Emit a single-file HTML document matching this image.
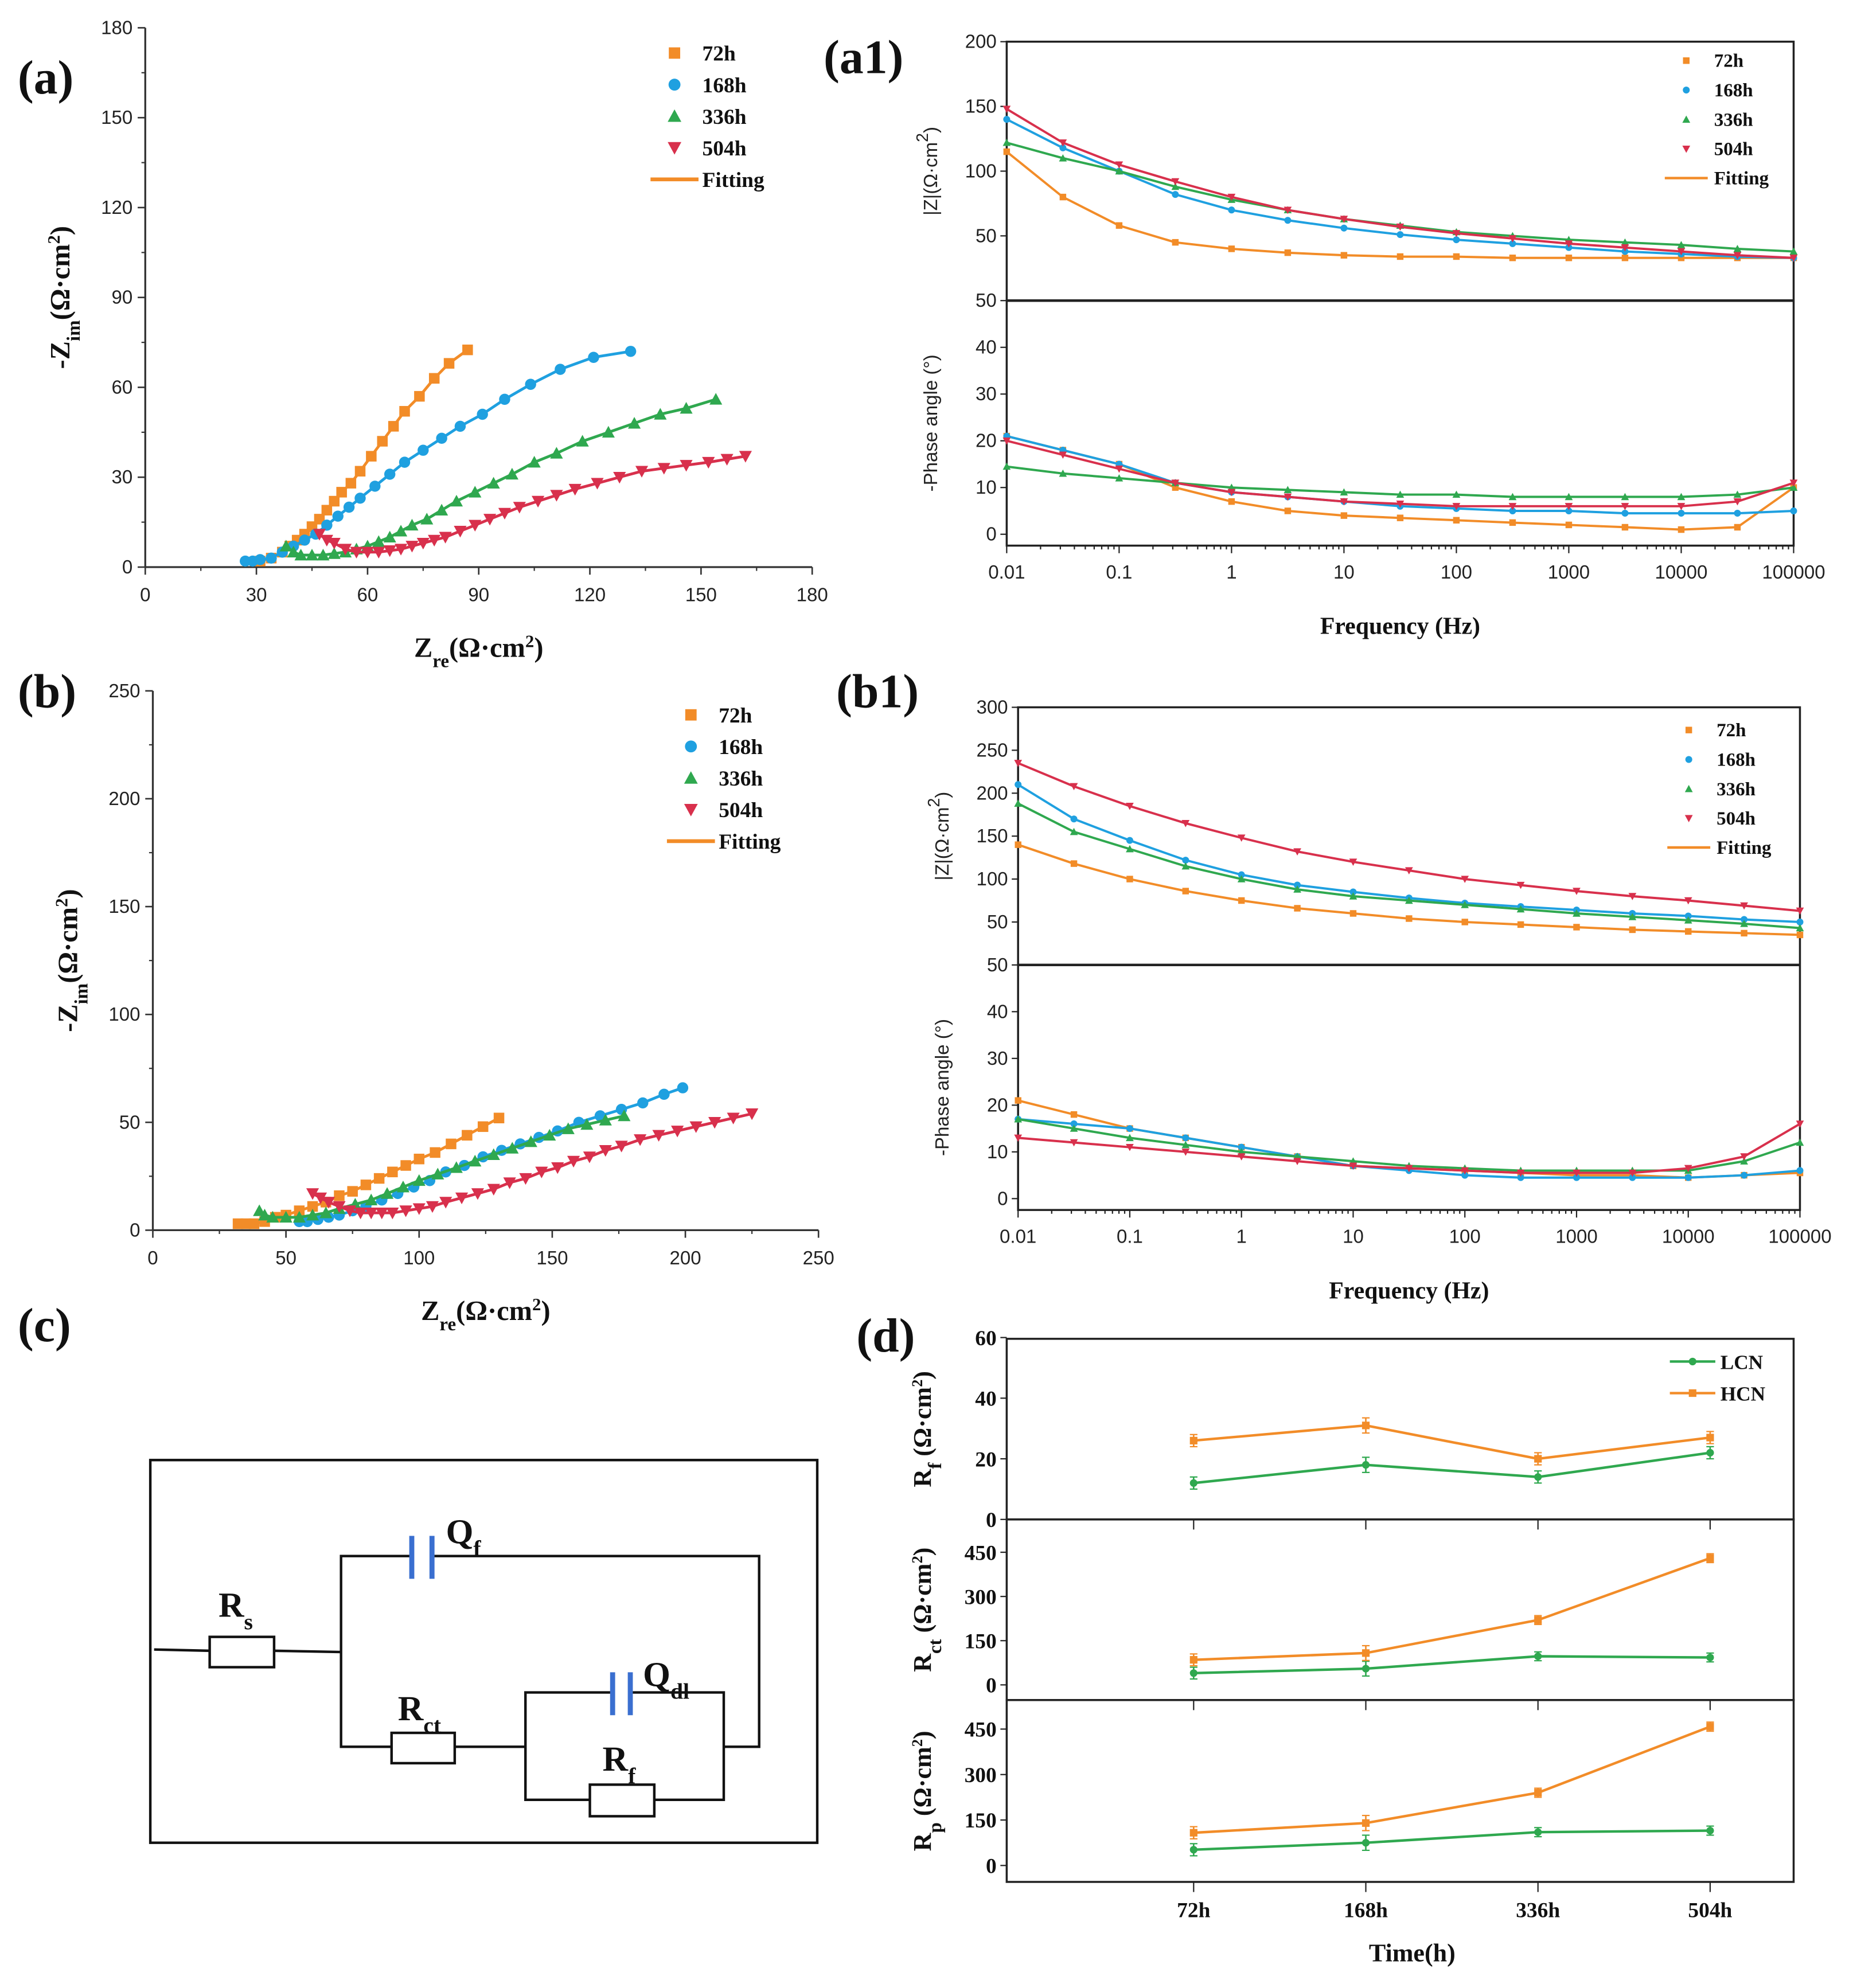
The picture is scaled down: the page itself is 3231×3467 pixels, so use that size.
<!DOCTYPE html>
<html><head><meta charset="utf-8"><style>
html,body{margin:0;padding:0;background:#fff}
svg{display:block}
.t{font-family:"Liberation Sans",sans-serif;font-size:15px;fill:#222}
.s{font-family:"Liberation Serif",serif;font-weight:bold;fill:#111}
</style></head><body>
<svg id="fig" width="3231" height="3467" viewBox="0 0 1467 1574" preserveAspectRatio="none" xmlns="http://www.w3.org/2000/svg">
<g id="root"></g>
</svg>
<script>
// ---------- DATA ----------
const seriesNames=["72h","168h","336h","504h"];
const seriesColors=["#f28c28","#1fa0e0","#2fa84f","#d8304c"];
// Nyquist (a)
const aZre72=[31,34,37,39,41,43,45,47,49,51,53,55.5,58,61,64,67,70,74,78,82,87];
const aZim72=[2,3,5,7,9,11,13.5,16,19,22,25,28,32,37,42,47,52,57,63,68,72.5];
const aZre168=[27,29,31,34,37,40,43,46,49,52,55,58,62,66,70,75,80,85,91,97,104,112,121,131];
const aZim168=[2,2,2.5,3,5,7,9,11,14,17,20,23,27,31,35,39,43,47,51,56,61,66,70,72];
const aZre336=[38,40,42,45,48,51,54,57,60,63,66,69,72,76,80,84,89,94,99,105,111,118,125,132,139,146,154];
const aZim336=[7,5,4,4,4,4.5,5,6,7,8.5,10,12,14,16,19,22,25,28,31,35,38,42,45,48,51,53,56];
const aZre504=[47,49,51,54,57,60,63,66,69,72,75,78,81,85,89,93,97,101,106,111,116,122,128,134,140,146,152,157,162];
const aZim504=[11,9,8,6,5,5,5,5.5,6,7,8,9,10,12,14,16,18,20,22,24,26,28,30,32,33,34,35,36,37];
// Nyquist (b)
const bZre72=[32,35,38,42,46,50,55,60,65,70,75,80,85,90,95,100,106,112,118,124,130];
const bZim72=[3,3,3,4,6,7,9,11,13,16,18,21,24,27,30,33,36,40,44,48,52];
const bZre168=[55,58,62,66,70,75,80,86,92,98,104,110,117,124,131,138,145,152,160,168,176,184,192,199];
const bZim168=[4,4,5,6,7,9,11,14,17,20,23,27,30,34,37,40,43,46,50,53,56,59,63,66];
const bZre336=[40,42,45,50,55,60,65,70,76,82,88,94,100,107,114,121,128,135,142,149,156,163,170,177];
const bZim336=[9,7,6,6,6,7,8,10,12,14,17,20,23,26,29,32,35,38,41,44,47,49,51,53];
const bZre504=[60,63,66,70,74,78,82,86,90,95,100,105,110,116,122,128,134,140,146,152,158,164,170,176,183,190,197,204,211,218,225];
const bZim504=[17,15,13,11,9,8,8,8,8,9,10,11,13,15,17,19,22,24,27,29,32,34,37,39,42,44,46,48,50,52,54];
// Bode: log10(freq) values
const logFreq=[-2,-1.5,-1,-0.5,0,0.5,1,1.5,2,2.5,3,3.5,4,4.5,5];
const a1Z72=[115,80,58,45,40,37,35,34,34,33,33,33,33,33,33];
const a1Z168=[140,118,100,82,70,62,56,51,47,44,41,38,36,34,33];
const a1Z336=[122,110,100,88,78,70,63,58,53,50,47,45,43,40,38];
const a1Z504=[148,122,105,92,80,70,63,57,52,48,44,41,38,35,33];
const a1P72=[21,18,15,10,7,5,4,3.5,3,2.5,2,1.5,1,1.5,10];
const a1P168=[21,18,15,11,9,8,7,6,5.5,5,5,4.5,4.5,4.5,5];
const a1P336=[14.5,13,12,11,10,9.5,9,8.5,8.5,8,8,8,8,8.5,10];
const a1P504=[20,17,14,11,9,8,7,6.5,6,6,6,6,6,7,11];
const b1Z72=[140,118,100,86,75,66,60,54,50,47,44,41,39,37,35];
const b1Z168=[210,170,145,122,105,93,85,78,72,68,64,60,57,53,50];
const b1Z336=[188,155,135,115,100,88,80,75,70,65,60,56,52,48,43];
const b1Z504=[235,208,185,165,148,132,120,110,100,93,86,80,75,69,63];
const b1P72=[21,18,15,13,11,9,7,6.5,6,5.5,5,5,4.5,5,5.5];
const b1P168=[17,16,15,13,11,9,7,6,5,4.5,4.5,4.5,4.5,5,6];
const b1P336=[17,15,13,11.5,10,9,8,7,6.5,6,6,6,6,8,12];
const b1P504=[13,12,11,10,9,8,7,6.5,6,5.5,5.5,5.5,6.5,9,16];
const freqTickLabels=["0.01","0.1","1","10","100","1000","10000","100000"];
// Panel (d)
const timeCats=["72h","168h","336h","504h"];
const rfLCN=[12,18,14,22], rfHCN=[26,31,20,27];
const rctLCN=[40,55,97,93], rctHCN=[85,108,220,430];
const rpLCN=[52,75,110,115], rpHCN=[108,140,240,458];
const rfErr=[2,2.5,2,2], rctErr=[20,25,15,15], rpErr=[20,25,15,15];

// ---------- HELPERS ----------
const NS="http://www.w3.org/2000/svg";
const root=document.getElementById('root');
function mk(tag,attrs,parent){const e=document.createElementNS(NS,tag);for(const k in attrs)e.setAttribute(k,attrs[k]);(parent||root).appendChild(e);return e;}
function txt(x,y,s,cls,extra,parent){const e=mk('text',Object.assign({x:x,y:y,class:cls},extra||{}),parent);e.innerHTML=s;return e;}
function lin(d0,d1,r0,r1){return v=>r0+(v-d0)/(d1-d0)*(r1-r0);}
function marker(g,type,x,y,r,color){
  let e;
  if(type===0)e=mk('rect',{x:x-r,y:y-r,width:2*r,height:2*r,fill:color},g);
  else if(type===1)e=mk('circle',{cx:x,cy:y,r:r*1.05,fill:color},g);
  else if(type===2)e=mk('polygon',{points:`${x},${y-r*1.2} ${x-r*1.2},${y+r} ${x+r*1.2},${y+r}`,fill:color},g);
  else e=mk('polygon',{points:`${x},${y+r*1.2} ${x-r*1.2},${y-r} ${x+r*1.2},${y-r}`,fill:color},g);
  return e;
}

// ---------- NYQUIST ----------
function nyquist(opt,xs,ys,name){
  const g=mk('g',{});
  
  
  const X=lin(0,opt.max,opt.x0,opt.x1),Y=lin(0,opt.max,opt.y0,opt.y1);
  mk('line',{x1:opt.x0,y1:opt.y0,x2:opt.x1,y2:opt.y0,stroke:'#333','stroke-width':1.5},g);
  mk('line',{x1:opt.x0,y1:opt.y0,x2:opt.x0,y2:opt.y1,stroke:'#333','stroke-width':1.5},g);
  for(let v=0;v<=opt.max;v+=opt.step){
    mk('line',{x1:X(v),y1:opt.y0,x2:X(v),y2:opt.y0+6,stroke:'#333','stroke-width':1.2},g);
    mk('line',{x1:opt.x0,y1:Y(v),x2:opt.x0-6,y2:Y(v),stroke:'#333','stroke-width':1.2},g);
    txt(X(v),opt.y0+27,v,'t',{'text-anchor':'middle'},g);
    txt(opt.x0-10,Y(v)+5,v,'t',{'text-anchor':'end'},g);
    if(v+opt.step<=opt.max){
      mk('line',{x1:X(v+opt.step/2),y1:opt.y0,x2:X(v+opt.step/2),y2:opt.y0+3,stroke:'#333'},g);
      mk('line',{x1:opt.x0,y1:Y(v+opt.step/2),x2:opt.x0-3,y2:Y(v+opt.step/2),stroke:'#333'},g);
    }
  }
  for(let s=0;s<4;s++){
    const pts=xs[s].map((v,i)=>X(v).toFixed(1)+','+Y(ys[s][i]).toFixed(1)).join(' ');
    const pl=mk('polyline',{points:pts,fill:'none',stroke:seriesColors[s],'stroke-width':2.2},g);
    
    
    xs[s].forEach((v,i)=>{marker(g,s,X(v),Y(ys[s][i]),4.2,seriesColors[s]);});
  }
  // legend
  const lg=mk('g',{},g);
  
  
  for(let s=0;s<4;s++){
    marker(lg,s,opt.lx,opt.ly+s*25,4.5,seriesColors[s]);
    txt(opt.lx+22,opt.ly+s*25+6,seriesNames[s],'s',{'font-size':17},lg);
  }
  mk('line',{x1:opt.lx-19,y1:opt.ly+100,x2:opt.lx+19,y2:opt.ly+100,stroke:'#f28c28','stroke-width':3},lg);
  txt(opt.lx+22,opt.ly+106,'Fitting','s',{'font-size':17},lg);
  // titles
  const yt=txt(0,0,'-Z<tspan baseline-shift="sub" font-size="15">im</tspan>(Ω·cm<tspan baseline-shift="super" font-size="14">2</tspan>)','s',{'font-size':22,'text-anchor':'middle',transform:`translate(${opt.x0-60},${(opt.y0+opt.y1)/2}) rotate(-90)`},g);
  
  
  const xt=txt((opt.x0+opt.x1)/2,opt.y0+71,'Z<tspan baseline-shift="sub" font-size="15">re</tspan>(Ω·cm<tspan baseline-shift="super" font-size="14">2</tspan>)','s',{'font-size':22,'text-anchor':'middle'},g);
  
  
}
nyquist({x0:115,x1:643,y0:449,y1:22,max:180,step:30,lx:534,ly:42},[aZre72,aZre168,aZre336,aZre504],[aZim72,aZim168,aZim336,aZim504],'nyquist-plot-a');
nyquist({x0:121,x1:648,y0:974,y1:547,max:250,step:50,lx:547,ly:566},[bZre72,bZre168,bZre336,bZre504],[bZim72,bZim168,bZim336,bZim504],'nyquist-plot-b');

// ---------- BODE ----------
function bode(o,Zs,Ps,name){
  const g=mk('g',{});
  
  
  const X=lin(-2,5,o.x0,o.x1);
  const YZ=lin(0,o.zmax,o.mid,o.top);
  const YP=lin(0,50,o.p0,o.mid);
  mk('rect',{x:o.x0,y:o.top,width:o.x1-o.x0,height:o.bot-o.top,fill:'none',stroke:'#222','stroke-width':1.6},g);
  mk('line',{x1:o.x0,y1:o.mid,x2:o.x1,y2:o.mid,stroke:'#222','stroke-width':2},g);
  for(let v=0;v<=o.zmax;v+=50){ if(v===0)continue;
    mk('line',{x1:o.x0,y1:YZ(v),x2:o.x0-5,y2:YZ(v),stroke:'#222'},g);
    txt(o.x0-8,YZ(v)+5,v,'t',{'text-anchor':'end'},g);}
  for(let v=0;v<=50;v+=10){
    mk('line',{x1:o.x0,y1:YP(v),x2:o.x0-5,y2:YP(v),stroke:'#222'},g);
    txt(o.x0-8,YP(v)+5,v,'t',{'text-anchor':'end'},g);}
  freqTickLabels.forEach((l,i)=>{const x=X(i-2);
    mk('line',{x1:x,y1:o.bot,x2:x,y2:o.bot+6,stroke:'#222'},g);
    txt(x,o.bot+26,l,'t',{'text-anchor':'middle'},g);
    if(i<7)for(let k=2;k<10;k++){const xm=X(i-2+Math.log10(k));mk('line',{x1:xm,y1:o.bot,x2:xm,y2:o.bot+3,stroke:'#222'},g);}
  });
  for(let s=0;s<4;s++){
    [[Zs[s],YZ],[Ps[s],YP]].forEach(([arr,Y],k)=>{
      const pts=logFreq.map((f,i)=>X(f).toFixed(1)+','+Y(arr[i]).toFixed(1)).join(' ');
      const pl=mk('polyline',{points:pts,fill:'none',stroke:seriesColors[s],'stroke-width':1.8},g);
      
      
      logFreq.forEach((f,i)=>{marker(g,s,X(f),Y(arr[i]),2.6,seriesColors[s]);});
    });
  }
  const lg=mk('g',{},g);
  
  
  for(let s=0;s<4;s++){
    marker(lg,s,o.lx,o.ly+s*23.3,2.6,seriesColors[s]);
    txt(o.lx+22,o.ly+s*23.3+5,seriesNames[s],'s',{'font-size':15},lg);
  }
  mk('line',{x1:o.lx-17,y1:o.ly+93,x2:o.lx+17,y2:o.ly+93,stroke:'#f28c28','stroke-width':2},lg);
  txt(o.lx+22,o.ly+98,'Fitting','s',{'font-size':15},lg);
  txt(0,0,'|Z|(Ω·cm<tspan baseline-shift="super" font-size="13">2</tspan>)','t',{'font-size':17,'text-anchor':'middle',transform:`translate(${o.x0-55},${(o.top+o.mid)/2}) rotate(-90)`},g);
  txt(0,0,'-Phase angle (°)','t',{'font-size':17,'text-anchor':'middle',transform:`translate(${o.x0-55},${(o.mid+o.bot)/2}) rotate(-90)`},g);
  txt((o.x0+o.x1)/2,o.bot+70,'Frequency (Hz)','s',{'font-size':19,'text-anchor':'middle'},g);
}
bode({x0:797,x1:1420,top:33,mid:238,bot:432,p0:423,zmax:200,lx:1335,ly:48},[a1Z72,a1Z168,a1Z336,a1Z504],[a1P72,a1P168,a1P336,a1P504],'bode-plot-a1');
bode({x0:806,x1:1425,top:560,mid:764,bot:958,p0:949,zmax:300,lx:1337,ly:578},[b1Z72,b1Z168,b1Z336,b1Z504],[b1P72,b1P168,b1P336,b1P504],'bode-plot-b1');

// ---------- PANEL D ----------
(function(){
  const g=mk('g',{});
  
  
  const x0=797,x1=1420;
  const X=i=>945+i*136.3;
  const subs=[
    {top:1060,bot:1203,zero:1203,per:48/20,step:20,max:60,L:rfLCN,H:rfHCN,E:rfErr,lab:'R<tspan baseline-shift="sub" font-size="15">f</tspan> (Ω·cm<tspan baseline-shift="super" font-size="12">2</tspan>)',name:'rf-subplot'},
    {top:1203,bot:1346,zero:1334,per:35/150,step:150,max:450,L:rctLCN,H:rctHCN,E:rctErr,lab:'R<tspan baseline-shift="sub" font-size="15">ct</tspan> (Ω·cm<tspan baseline-shift="super" font-size="12">2</tspan>)',name:'rct-subplot'},
    {top:1346,bot:1490,zero:1477,per:36/150,step:150,max:450,L:rpLCN,H:rpHCN,E:rpErr,lab:'R<tspan baseline-shift="sub" font-size="15">p</tspan> (Ω·cm<tspan baseline-shift="super" font-size="12">2</tspan>)',name:'rp-subplot'}
  ];
  subs.forEach(sp=>{
    const sg=mk('g',{},g);
    
    
    const Y=v=>sp.zero-v*sp.per;
    mk('rect',{x:x0,y:sp.top,width:x1-x0,height:sp.bot-sp.top,fill:'none',stroke:'#222','stroke-width':1.6},sg);
    for(let v=0;v<=sp.max;v+=sp.step){
      mk('line',{x1:x0,y1:Y(v),x2:x0-5,y2:Y(v),stroke:'#222'},sg);
      txt(x0-8,Y(v)+6,v,'s',{'font-size':17,'font-weight':'normal','text-anchor':'end'},sg);
    }
    timeCats.forEach((c,i)=>mk('line',{x1:X(i),y1:sp.bot,x2:X(i),y2:sp.bot+8,stroke:'#222'},sg));
    [[sp.L,'#2fa84f','lcn'],[sp.H,'#f28c28','hcn']].forEach(([arr,col,nm])=>{
      const pl=mk('polyline',{points:arr.map((v,i)=>X(i)+','+Y(v)).join(' '),fill:'none',stroke:col,'stroke-width':2},sg);
      
      
      arr.forEach((v,i)=>{
        mk('line',{x1:X(i),y1:Y(v-sp.E[i]),x2:X(i),y2:Y(v+sp.E[i]),stroke:col,'stroke-width':1.2},sg);
        mk('line',{x1:X(i)-3,y1:Y(v-sp.E[i]),x2:X(i)+3,y2:Y(v-sp.E[i]),stroke:col},sg);
        mk('line',{x1:X(i)-3,y1:Y(v+sp.E[i]),x2:X(i)+3,y2:Y(v+sp.E[i]),stroke:col},sg);
        if(nm==='lcn')mk('circle',{cx:X(i),cy:Y(v),r:3,fill:col},sg);else mk('rect',{x:X(i)-3,y:Y(v)-3,width:6,height:6,fill:col},sg);
      });
    });
    txt(0,0,sp.lab,'s',{'font-size':20,'text-anchor':'middle',transform:`translate(737,${(sp.top+sp.bot)/2}) rotate(-90)`},sg);
  });
  timeCats.forEach((c,i)=>txt(X(i),1518,c,'s',{'font-size':17,'text-anchor':'middle'},g));
  txt(1118,1553,'Time(h)','s',{'font-size':20,'text-anchor':'middle'},g);
  const lg=mk('g',{},g);
  
  
  mk('line',{x1:1322,y1:1078,x2:1358,y2:1078,stroke:'#2fa84f','stroke-width':2},lg);
  mk('circle',{cx:1340,cy:1078,r:3,fill:'#2fa84f'},lg);
  txt(1362,1084,'LCN','s',{'font-size':16,'font-weight':'normal'},lg);
  mk('line',{x1:1322,y1:1103,x2:1358,y2:1103,stroke:'#f28c28','stroke-width':2},lg);
  mk('rect',{x:1337,y:1100,width:6,height:6,fill:'#f28c28'},lg);
  txt(1362,1109,'HCN','s',{'font-size':16,'font-weight':'normal'},lg);
})();

// ---------- CIRCUIT ----------
(function(){
  const g=mk('g',{});
  
  
  const w={stroke:'#111','stroke-width':2,fill:'none'};
  mk('rect',Object.assign({x:119,y:1156,width:528,height:303},w),g);
  mk('polyline',Object.assign({points:'122,1306 166,1307'},w),g);
  mk('rect',Object.assign({x:166,y:1296,width:51,height:24},w),g);
  mk('polyline',Object.assign({points:'217,1307 270,1308'},w),g);
  mk('polyline',Object.assign({points:'325,1232 270,1232 270,1383 310,1383'},w),g);
  mk('polyline',Object.assign({points:'343,1232 601,1232 601,1383 573,1383'},w),g);
  mk('line',{x1:326,y1:1216,x2:326,y2:1250,stroke:'#3a6fd0','stroke-width':4},g);
  mk('line',{x1:342,y1:1216,x2:342,y2:1250,stroke:'#3a6fd0','stroke-width':4},g);
  mk('rect',Object.assign({x:310,y:1372,width:50,height:24},w),g);
  mk('polyline',Object.assign({points:'360,1383 416,1383'},w),g);
  mk('polyline',Object.assign({points:'484,1340 416,1340 416,1425 467,1425'},w),g);
  mk('polyline',Object.assign({points:'500,1340 573,1340 573,1425 518,1425'},w),g);
  mk('line',{x1:485,y1:1324,x2:485,y2:1358,stroke:'#3a6fd0','stroke-width':4},g);
  mk('line',{x1:499,y1:1324,x2:499,y2:1358,stroke:'#3a6fd0','stroke-width':4},g);
  mk('rect',Object.assign({x:467,y:1413,width:51,height:25},w),g);
  txt(173,1280,'R<tspan baseline-shift="sub" font-size="18">s</tspan>','s',{'font-size':28},g);
  txt(353,1222,'Q<tspan baseline-shift="sub" font-size="18">f</tspan>','s',{'font-size':28},g);
  txt(315,1362,'R<tspan baseline-shift="sub" font-size="18">ct</tspan>','s',{'font-size':28},g);
  txt(509,1335,'Q<tspan baseline-shift="sub" font-size="18">dl</tspan>','s',{'font-size':28},g);
  txt(477,1402,'R<tspan baseline-shift="sub" font-size="18">f</tspan>','s',{'font-size':28},g);
})();

// ---------- PANEL LABELS ----------
[['(a)',14,74],['(a1)',652,58],['(b)',14,560],['(b1)',662,560],['(c)',14,1062],['(d)',678,1070]].forEach(([s,x,y])=>{
  const e=txt(x,y,s,'s',{'font-size':38});
  
  
});
</script>
</body></html>
